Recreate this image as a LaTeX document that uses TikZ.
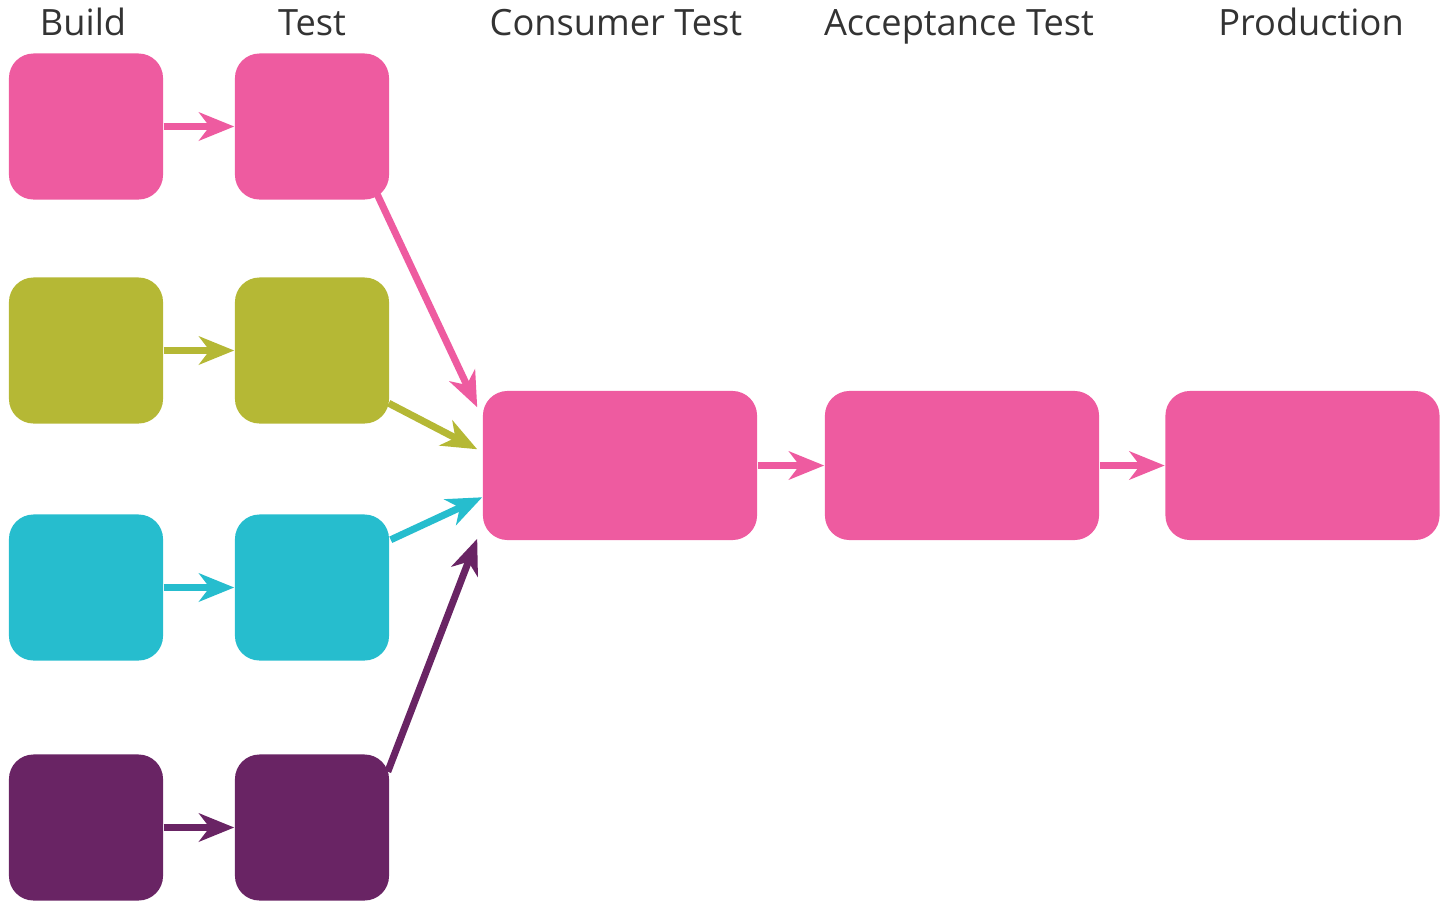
\documentclass[tikz,border=0pt]{standalone}
\usepackage{fontspec}
\setmainfont{Open Sans}
\usetikzlibrary{calc, arrows.meta, backgrounds}
\definecolor{pinkbox}{RGB}{238,91,160}
\definecolor{olivebox}{RGB}{181,184,53}
\definecolor{cyanbox}{RGB}{38,189,206}
\definecolor{purplebox}{RGB}{105,36,100}
\tikzset{
  stagebox/.style={rounded corners=7pt, inner sep=0pt, minimum width=1.54cm, minimum height=1.46cm},
  widebox/.style={stagebox, minimum width=2.74cm, minimum height=1.49cm},
  flow/.style={line width=2pt, -{Stealth[length=10pt,width=8pt,inset=3pt]}},
  stagelabel/.style={anchor=base, font=\fontsize{10.3}{12}\selectfont, text=black!80}
}

\begin{document}
\begin{tikzpicture}[x=0.01cm, y=-0.01cm]
  \useasboundingbox (0,0) rectangle (1441,908);
  % column titles
  \node[stagelabel] (lbuild) at (83,35) {Build};
  \node[stagelabel] (ltest) at (312,35) {Test};
  \node[stagelabel] (lconsumer) at (616,35) {Consumer Test};
  \node[stagelabel] (laccept) at (959,35) {Acceptance Test};
  \node[stagelabel] (lprod) at (1311,35) {Production};
  % build and test boxes
  \node[stagebox, fill=pinkbox] (b1) at (86,126.5) {};
  \node[stagebox, fill=pinkbox] (t1) at (312,126.5) {};
  \node[stagebox, fill=olivebox] (b2) at (86,350.5) {};
  \node[stagebox, fill=olivebox] (t2) at (312,350.5) {};
  \node[stagebox, fill=cyanbox] (b3) at (86,587.5) {};
  \node[stagebox, fill=cyanbox] (t3) at (312,587.5) {};
  \node[stagebox, fill=purplebox] (b4) at (86,827.5) {};
  \node[stagebox, fill=purplebox] (t4) at (312,827.5) {};
  % pipeline boxes
  \node[widebox, fill=pinkbox] (ct) at (620,465.5) {};
  \node[widebox, fill=pinkbox] (at) at (962,465.5) {};
  \node[widebox, fill=pinkbox] (prod) at (1302.5,465.5) {};
  % arrows
  \begin{scope}[on background layer]
    \draw[flow, pinkbox] (b1) -- (t1);
    \draw[flow, olivebox] (b2) -- (t2);
    \draw[flow, cyanbox] (b3) -- (t3);
    \draw[flow, purplebox] (b4) -- (t4);
    \draw[flow, pinkbox] ($(t1.south east)+(-14,-9)$) -- ($(ct.north west)+(-5,17)$);
    \draw[flow, olivebox] ($(t2.south east)+(-1,-21)$) -- ($(ct.north west)+(-5,59)$);
    \draw[flow, cyanbox] ($(t3.north east)+(1,26)$) -- ($(ct.north west)+(0,107)$);
    \draw[flow, purplebox] ($(t4.north east)+(-2,18)$) -- ($(ct.south west)+(-5,-2)$);
    \draw[flow, pinkbox] (ct) -- (at);
    \draw[flow, pinkbox] (at) -- (prod);
  \end{scope}
\end{tikzpicture}
\end{document}
